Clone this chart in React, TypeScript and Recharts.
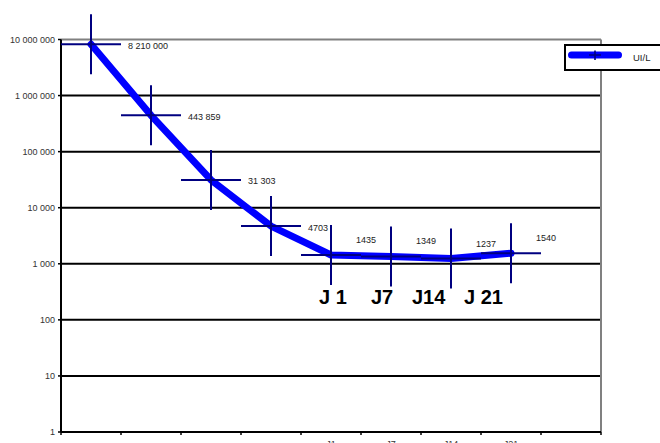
import React from 'react';
import { ComposedChart, Line, XAxis, YAxis, ReferenceLine, Legend, LabelList } from 'recharts';

if (typeof document !== 'undefined') {
  document.body.style.margin = '0';
}

const categoryLabels = ['', '', '', '', 'J1', 'J7', 'J14', 'J21', ''];
const seriesValues = [8210000, 443859, 31303, 4703, 1435, 1349, 1237, 1540];
const yTicks = [1, 10, 100, 1000, 10000, 100000, 1000000, 10000000];
const gridValues = [10, 100, 1000, 10000, 100000, 1000000];
const xTicks = [0, 1, 2, 3, 4, 5, 6, 7, 8, 9];
const annotations = ['J 1', 'J7', 'J14', 'J 21'];
const seriesName = 'UI/L';

const data = seriesValues.map((v, i) => ({ x: i + 0.5, value: v }));

const FONT = '"Liberation Sans", Arial, sans-serif';
const NAVY = '#000080';
const BLUE = '#0000FF';

// annotation text-box layout (free positioned text boxes)
const annotationLayout = [
  { x: 319, y: 304 },
  { x: 371, y: 304 },
  { x: 412, y: 304 },
  { x: 464, y: 304 },
];

const groupSpaces = (v: number) => String(v).replace(/\B(?=(\d{3})+(?!\d))/g, ' ');
const fmtLabel = (v: number) => (v >= 10000 ? groupSpaces(v) : String(v));

const CrossDot = (props: any) => {
  const { cx, cy, index } = props;
  if (cx == null || cy == null) return null;
  return (
    <g key={`dot-${index}`}>
      <line x1={cx - 30} x2={cx + 30} y1={cy} y2={cy} stroke={NAVY} strokeWidth={2} />
      <line x1={cx} x2={cx} y1={cy - 30} y2={cy + 30} stroke={NAVY} strokeWidth={2} />
    </g>
  );
};

const ValueLabel = (props: any) => {
  const { x, y, value, index } = props;
  const upper = index < 4;
  return (
    <text
      x={x + (upper ? 37 : 25)}
      y={y + (upper ? 4.5 : -12)}
      fontSize={9}
      fill="#222"
      fontFamily={FONT}
    >
      {fmtLabel(value)}
    </text>
  );
};

const YTick = (props: any) => {
  const { x, y, payload } = props;
  return (
    <text x={x} y={y} dy={3.2} textAnchor="end" fontSize={9} fill="#333" fontFamily={FONT}>
      {groupSpaces(payload.value)}
    </text>
  );
};

const LegendBox = () => (
  <div
    style={{
      width: 110,
      height: 27,
      boxSizing: 'border-box',
      border: '2px solid #000',
      background: '#fff',
      position: 'relative',
    }}
  >
    <svg width={106} height={23} style={{ position: 'absolute', left: 0, top: 0 }}>
      <line x1={5.5} x2={52.5} y1={9} y2={9} stroke={BLUE} strokeWidth={7} strokeLinecap="round" />
      <line x1={29} x2={29} y1={4.5} y2={14} stroke={NAVY} strokeWidth={1.6} />
      <line x1={23} x2={35} y1={9} y2={9} stroke={NAVY} strokeWidth={1.6} />
      <text x={67} y={15} fontSize={9.5} fill="#222" fontFamily={FONT}>
        {seriesName}
      </text>
    </svg>
  </div>
);

export default function App() {
  return (
    <div style={{ position: 'relative', width: 660, height: 443, overflow: 'hidden', fontFamily: FONT, background: '#fff' }}>
      <ComposedChart
        width={660}
        height={443}
        data={data}
        margin={{ top: 39.5, right: 59, bottom: 0, left: 0 }}
      >
        <XAxis
          type="number"
          dataKey="x"
          domain={[0, 9]}
          ticks={xTicks}
          interval={0}
          tickFormatter={(v: number) => categoryLabels[v] ?? ''}
          tick={{ dx: 30, fontSize: 9, fill: '#333' }}
          tickSize={3}
          tickMargin={6}
          height={11}
          axisLine={{ stroke: '#000', strokeWidth: 2 }}
          tickLine={{ stroke: '#000', strokeWidth: 1.5 }}
        />
        <YAxis
          type="number"
          scale="log"
          domain={[1, 10000000]}
          ticks={yTicks}
          interval={0}
          tick={YTick}
          tickSize={3}
          tickMargin={3}
          width={61}
          axisLine={{ stroke: '#000', strokeWidth: 2 }}
          tickLine={{ stroke: '#000', strokeWidth: 1.5 }}
        />
        {gridValues.map((g) => (
          <ReferenceLine key={g} y={g} stroke="#000" strokeWidth={2} />
        ))}
        <ReferenceLine y={10000000} stroke="#808080" strokeWidth={2} />
        <ReferenceLine x={9} stroke="#808080" strokeWidth={2} />
        <Legend
          layout="horizontal"
          verticalAlign="middle"
          align="center"
          content={() => <LegendBox />}
          wrapperStyle={{ left: 564, top: 44, width: 110, height: 27 }}
        />
        <Line
          type="linear"
          dataKey="value"
          name={seriesName}
          stroke={BLUE}
          strokeWidth={7}
          strokeLinejoin="round"
          strokeLinecap="round"
          dot={CrossDot}
          activeDot={false}
          isAnimationActive={false}
        >
          <LabelList dataKey="value" content={ValueLabel} />
        </Line>
      </ComposedChart>
      <svg width={660} height={443} style={{ position: 'absolute', left: 0, top: 0, pointerEvents: 'none' }}>
        {annotations.map((t, i) => (
          <text
            key={t}
            x={annotationLayout[i].x}
            y={annotationLayout[i].y}
            fontSize={20}
            fontWeight="bold"
            fill="#000"
            fontFamily={FONT}
          >
            {t}
          </text>
        ))}
      </svg>
    </div>
  );
}
